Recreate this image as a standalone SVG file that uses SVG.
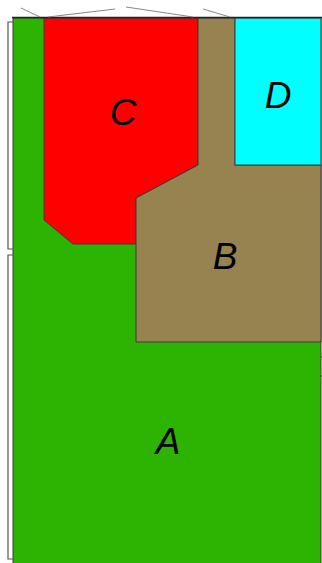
<svg xmlns="http://www.w3.org/2000/svg" width="322" height="563" viewBox="0 0 322 563">
<style>
.r{stroke:#3a3a3a;stroke-width:1;}
.lbl{font-family:"Liberation Sans",Arial,sans-serif;font-style:italic;font-size:37px;fill:#000;text-anchor:middle;}
.g{stroke:#888;stroke-width:1;fill:none;}
.br{stroke:#555;stroke-width:1.2;fill:none;}
</style>
<rect width="322" height="563" fill="#fff"/>
<g id="A">
<rect class="r" x="13" y="18" width="308" height="550" fill="#2db402"/>
<text class="lbl" x="168" y="454">A</text>
</g>
<g id="C">
<polygon class="r" points="44,18 198,18 198,165 136,198 136,244 73,244 44,220" fill="#ff0000"/>
<text class="lbl" x="123" y="125">C</text>
</g>
<g id="B">
<polygon class="r" points="198,18 235,18 235,165 321,165 321,342 136,342 136,198 198,165" fill="#97834f"/>
<text class="lbl" x="225" y="269">B</text>
</g>
<g id="D">
<rect class="r" x="235" y="18" width="86" height="147" fill="#00ffff"/>
<text class="lbl" x="278" y="108">D</text>
</g>
<g id="connectors">
<line x1="12" y1="17.5" x2="322" y2="17.5" stroke="#222" stroke-width="1.5"/>
<line class="g" x1="21" y1="8" x2="40" y2="17"/>
<line class="g" x1="48" y1="17" x2="115" y2="9"/>
<line class="g" x1="126" y1="7" x2="193" y2="17"/>
<line class="g" x1="203" y1="9" x2="230" y2="17"/>
<polyline class="br" points="13,22 8,22 8,249 13,249"/>
<polyline class="br" points="13,255 8,255 8,559 13,559"/>
<line x1="321" y1="357" x2="322" y2="357" stroke="#333"/>
<line x1="321" y1="376" x2="322" y2="376" stroke="#333"/>
</g>
</svg>
